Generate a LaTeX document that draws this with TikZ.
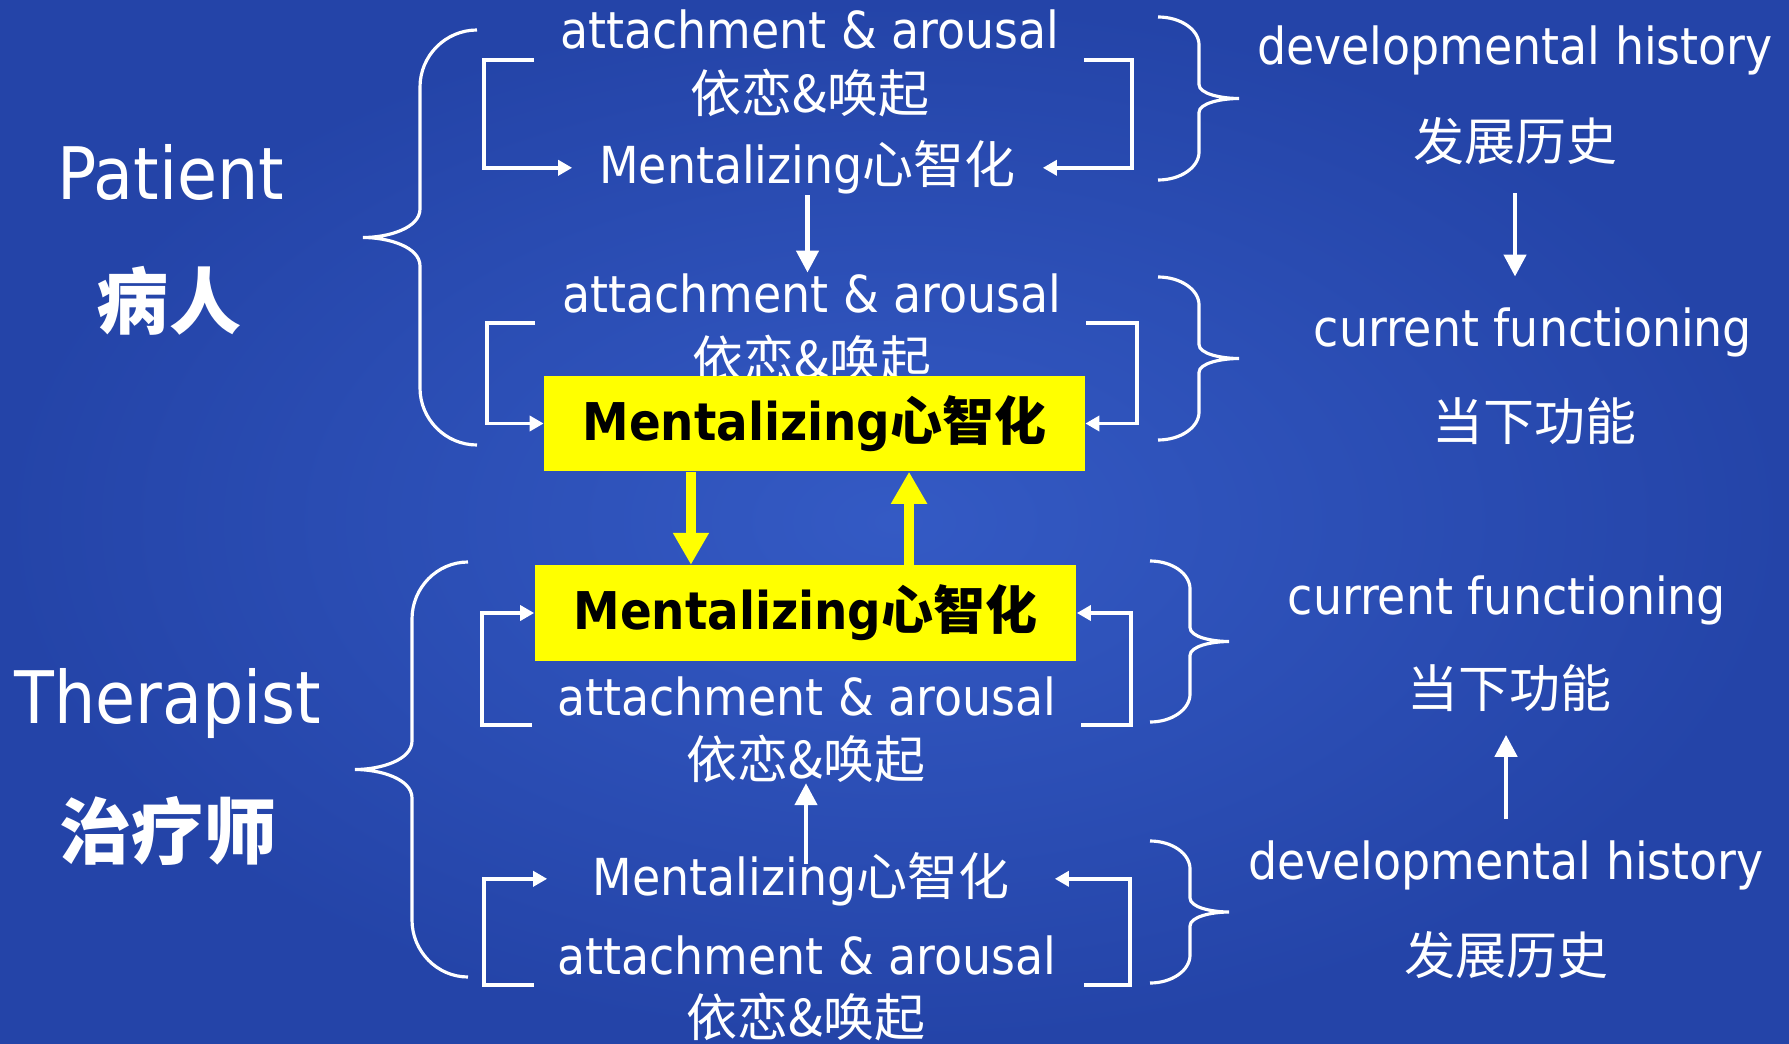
\documentclass[tikz,border=0pt]{standalone}
\usepackage{fontspec}
\setmainfont{DejaVu Sans Condensed}
\newfontfamily\cjk{Noto Sans CJK SC}
\usetikzlibrary{arrows.meta}
\usetikzlibrary{calc}
\definecolor{slidedark}{RGB}{36,68,168}
\definecolor{slidelight}{RGB}{52,90,196}
\definecolor{boxyellow}{RGB}{255,255,0}
\newcommand{\zh}[1]{{\cjk #1}}
% brace: end x, stem x, tip x, top y, bottom y, bend
\newcommand{\curly}[6]{%
  \pgfmathsetmacro{\ytip}{(#4+#5)/2}
  \draw[brace line] (#1,#4) .. controls ({#2+0.45*(#1-#2)},#4) and (#2,{#4+0.45*#6}) .. (#2,{#4+#6})
    -- (#2,{\ytip-#6/2}) .. controls (#2,{\ytip-#6/6}) and ({#3+0.45*(#2-#3)},\ytip) .. (#3,\ytip)
    .. controls ({#3+0.45*(#2-#3)},\ytip) and (#2,{\ytip+#6/6}) .. (#2,{\ytip+#6/2})
    -- (#2,{#5-#6}) .. controls (#2,{#5-0.45*#6}) and ({#2+0.45*(#1-#2)},#5) .. (#1,#5);
}

\begin{document}
\begin{tikzpicture}[x=0.01cm, y=-0.01cm,
  every node/.style={inner sep=0pt, text=white},
  txt/.style={anchor=base, font=\fontsize{14.5}{17}\selectfont},
  role/.style={anchor=base, font=\fontsize{20.6}{24}\selectfont},
  ylwbox/.style={fill=boxyellow, text=black, minimum width=5.4cm, minimum height=0.95cm, font=\bfseries\fontsize{14.8}{17}\selectfont},
  brace line/.style={white, line width=0.9pt},
  wline/.style={white, line width=1pt, -{Triangle[length=0.14cm, width=0.15cm]}},
  warrow/.style={white, line width=1.3pt, -{Triangle[length=0.22cm, width=0.22cm]}},
  yarrow/.style={boxyellow, line width=2.8pt, -{Triangle[length=0.32cm, width=0.34cm]}}]

\useasboundingbox (0,0) rectangle (1789,1043);
\shade[inner color=slidelight, outer color=slidedark] (0,0) rectangle (1789,1043);

% Patient / Therapist
  \node[role] (patient) at (171,200) {Patient};
  \node[role, font=\bfseries\fontsize{20.5}{24}\selectfont\cjk] (bingren) at (169,328) {病人};
  \node[role] (therapist) at (168,723) {Therapist};
  \node[role, font=\bfseries\fontsize{20.5}{24}\selectfont\cjk] (zhiliaoshi) at (168,858) {治疗师};

  \curly{477}{420}{363}{30}{445}{57}
  \curly{468}{412}{355}{562}{977}{57}

% Patient, developmental level
  \node[txt] (att1) at (810,49) {attachment \& arousal};
  \node[txt] (yl1) at (810,113) {\zh{依恋\&唤起}};
  \node[txt, minimum width=4.69cm] (ment1) at (807.5,184) {Mentalizing\zh{心智化}};
    \coordinate (b1l) at (534,60);
    \coordinate (b1r) at (1084,60);
    \draw[wline] (b1l) -- ++(-50,0) |- (ment1.west);
    \draw[wline] (b1r) -- ++(48,0) |- (ment1.east);

% Patient, current level
  \node[txt] (att2) at (812,312) {attachment \& arousal};
  \node[txt] (yl2) at (812,378) {\zh{依恋\&唤起}};
  \node[ylwbox] (box1) at (814.5,423.5) {Mentalizing\zh{心智化}};
    \coordinate (b2l) at (535,323);
    \coordinate (b2r) at (1086,323);
    \draw[wline] (b2l) -- ++(-48,0) |- (box1.west);
    \draw[wline] (b2r) -- ++(51,0) |- (box1.east);
  \draw[warrow] (ment1.south) -- (ment1.south |- att2.north);

% Therapist, current level
  \node[ylwbox, minimum width=5.41cm] (box2) at (805.5,613) {Mentalizing\zh{心智化}};
  \node[txt] (att3) at (807,715) {attachment \& arousal};
  \node[txt] (yl3) at (806,778) {\zh{依恋\&唤起}};
    \coordinate (b3l) at (532,725);
    \coordinate (b3r) at (1081,725);
    \draw[wline] (b3l) -- ++(-50,0) |- (box2.west);
    \draw[wline] (b3r) -- ++(50,0) |- (box2.east);

% Therapist, developmental level
  \node[txt, minimum width=5.06cm] (ment4) at (801,895) {Mentalizing\zh{心智化}};
  \node[txt] (att4) at (807,974) {attachment \& arousal};
  \node[txt] (yl4) at (806,1036) {\zh{依恋\&唤起}};
    \coordinate (b4l) at (534,985);
    \coordinate (b4r) at (1084,985);
    \draw[wline] (b4l) -- ++(-50,0) |- (ment4.west);
    \draw[wline] (b4r) -- ++(46,0) |- (ment4.east);
  \draw[warrow, shorten <=-0.13cm] (yl3.south |- ment4.north) -- (yl3.south);

% yellow link between the two
  \draw[yarrow] ([xshift=-1.235cm]box1.south) -- ([xshift=-1.235cm]box1.south |- box2.north);
  \draw[yarrow] ([xshift=0.945cm]box1.south |- box2.north) -- ([xshift=0.945cm]box1.south);

% right column
  \curly{1158}{1199}{1239}{17}{180}{28}
  \curly{1158}{1199}{1239}{277}{440}{28}
  \curly{1150}{1190}{1229}{561}{722}{28}
  \curly{1150}{1190}{1229}{841}{983}{28}

  \node[txt] (dev1) at (1515,65) {developmental history};
  \node[txt] (fz1) at (1515,161) {\zh{发展历史}};
  \node[txt] (cur2) at (1533,347) {current functioning};
  \node[txt] (dn2) at (1534,440) {\zh{当下功能}};
  \draw[warrow, shorten <=0.27cm, shorten >=0.31cm] (fz1.south) -- (fz1.south |- cur2.north);

  \node[txt] (cur3) at (1507,614) {current functioning};
  \node[txt] (dn3) at (1509,707) {\zh{当下功能}};
  \node[txt] (dev4) at (1506,879) {developmental history};
  \node[txt] (fz4) at (1506,974) {\zh{发展历史}};
  \draw[warrow, shorten <=0.21cm, shorten >=0.23cm] (dev4.north) -- (dev4.north |- dn3.south);

\end{tikzpicture}
\end{document}
